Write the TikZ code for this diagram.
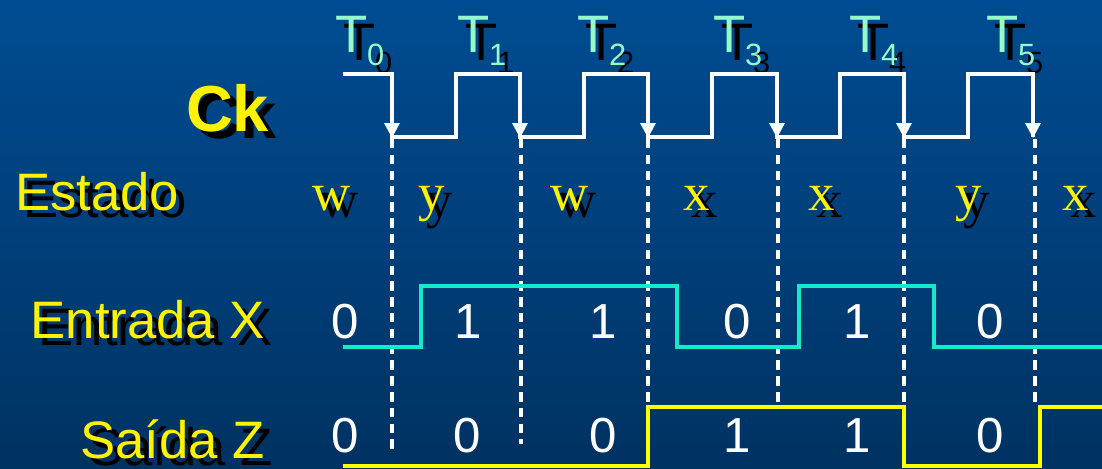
\documentclass[tikz,border=0pt]{standalone}
\usepackage{fontspec}
\setmainfont{Liberation Sans}
\newfontfamily\statefont{Liberation Serif}
\usetikzlibrary{arrows.meta}
\definecolor{bgtop}{RGB}{0,76,146}
\definecolor{bgbot}{RGB}{0,50,98}
\definecolor{tickcol}{RGB}{150,250,200}
\definecolor{xcol}{RGB}{20,235,200}
\definecolor{zcol}{RGB}{255,255,0}
\newcommand{\clksub}[1]{\raisebox{-7.4pt}{\fontsize{17.5}{17.5}\selectfont #1}}

\begin{document}
\begin{tikzpicture}[x=0.02cm, y=-0.02cm,
        every node/.style={inner sep=0pt, outer sep=0pt},
        shadow/.style={text=black},
        tlabel/.style={font=\fontsize{30}{30}\selectfont, text=tickcol, anchor=base west},
        cklabel/.style={font=\fontsize{37}{37}\selectfont\bfseries, text=yellow, anchor=base west},
        rowlabel/.style={font=\fontsize{30}{30}\selectfont, text=yellow},
        statelabel/.style={font=\fontsize{30}{30}\statefont, text=yellow, anchor=base},
        bitlabel/.style={font=\fontsize{28}{28}\selectfont, text=white, anchor=base},
        wave/.style={line width=1.8pt},
        clkarrow/.style={line width=1.8pt, white, -{Triangle[width=8.5pt, length=8.5pt]}},
        guide/.style={white, line width=1.8pt, dash pattern=on 5.4pt off 3.6pt}
    ]
        % fundo
        \fill[top color=bgtop, bottom color=bgbot] (0,0) rectangle (1102,468);
        \useasboundingbox (0,0) rectangle (1102,468);

        % rotulos dos instantes
        \node[tlabel, shadow] (t0s) at (343,60) {T\clksub{0}};
        \node[tlabel] (t0) at (335,52) {T\clksub{0}};
        \node[tlabel, shadow] (t1s) at (465,60) {T\clksub{1}};
        \node[tlabel] (t1) at (457,52) {T\clksub{1}};
        \node[tlabel, shadow] (t2s) at (585,60) {T\clksub{2}};
        \node[tlabel] (t2) at (577,52) {T\clksub{2}};
        \node[tlabel, shadow] (t3s) at (721,60) {T\clksub{3}};
        \node[tlabel] (t3) at (713,52) {T\clksub{3}};
        \node[tlabel, shadow] (t4s) at (857,60) {T\clksub{4}};
        \node[tlabel] (t4) at (849,52) {T\clksub{4}};
        \node[tlabel, shadow] (t5s) at (994,60) {T\clksub{5}};
        \node[tlabel] (t5) at (986,52) {T\clksub{5}};

        % rotulos das linhas
        \node[cklabel, shadow] (cks) at (194,138) {Ck};
        \node[cklabel] (ck) at (186,131) {Ck};
        \node[rowlabel, shadow, anchor=base west] (estados) at (23,217) {Estado};
        \node[rowlabel, anchor=base west] (estado) at (15,210) {Estado};
        \node[rowlabel, shadow, anchor=base east] (entradas) at (273,345) {Entrada X};
        \node[rowlabel, anchor=base east] (entrada) at (265,338) {Entrada X};
        \node[rowlabel, shadow, anchor=base east] (saidas) at (273,465) {Saída Z};
        \node[rowlabel, anchor=base east] (saida) at (265,458) {Saída Z};

        % relogio
        \draw[wave, white] (343,74) -- (392,74) -- (392,137) -- (456,137) -- (456,74)
            -- (520,74) -- (520,137) -- (584,137) -- (584,74)
            -- (648,74) -- (648,137) -- (712,137) -- (712,74)
            -- (777,74) -- (777,137) -- (840,137) -- (840,74)
            -- (904,74) -- (904,137) -- (968,137) -- (968,74)
            -- (1033,74) -- (1033,137);
        \draw[clkarrow] (392,100) -- (392,138);
        \draw[clkarrow] (520,100) -- (520,138);
        \draw[clkarrow] (648,100) -- (648,138);
        \draw[clkarrow] (777,100) -- (777,138);
        \draw[clkarrow] (904,100) -- (904,138);
        \draw[clkarrow] (1033,100) -- (1033,138);

        % linhas tracejadas
        \draw[guide] (392,139) -- (392,452);
        \draw[guide] (521,139) -- (521,444);
        \draw[guide] (648,139) -- (648,407);
        \draw[guide] (778,139) -- (778,406);
        \draw[guide] (904,139) -- (904,407);
        \draw[guide] (1035,139) -- (1035,406);

        % estados
        \node[statelabel, shadow] (s0s) at (340,217) {w};
        \node[statelabel] (s0) at (332,210) {w};
        \node[statelabel, shadow] (s1s) at (440,217) {y};
        \node[statelabel] (s1) at (432,210) {y};
        \node[statelabel, shadow] (s2s) at (578,217) {w};
        \node[statelabel] (s2) at (570,210) {w};
        \node[statelabel, shadow] (s3s) at (705,217) {x};
        \node[statelabel] (s3) at (697,210) {x};
        \node[statelabel, shadow] (s4s) at (830,217) {x};
        \node[statelabel] (s4) at (822,210) {x};
        \node[statelabel, shadow] (s5s) at (977,217) {y};
        \node[statelabel] (s5) at (969,210) {y};
        \node[statelabel, shadow] (s6s) at (1084,217) {x};
        \node[statelabel] (s6) at (1076,210) {x};

        % entrada X
        \draw[wave, xcol] (343,347) -- (421,347) -- (421,286) -- (677,286) -- (677,347)
            -- (799,347) -- (799,286) -- (934,286) -- (934,347) -- (1102,347);
        \node[bitlabel] (x0) at (345,338) {0};
        \node[bitlabel] (x1) at (468,338) {1};
        \node[bitlabel] (x2) at (603,338) {1};
        \node[bitlabel] (x3) at (737,338) {0};
        \node[bitlabel] (x4) at (857,338) {1};
        \node[bitlabel] (x5) at (990,338) {0};

        % saida Z
        \draw[wave, zcol] (343,466) -- (648,466) -- (648,407) -- (904,407) -- (904,466)
            -- (1040,466) -- (1040,407) -- (1102,407);
        \node[bitlabel] (z0) at (345,452) {0};
        \node[bitlabel] (z1) at (467,452) {0};
        \node[bitlabel] (z2) at (603,452) {0};
        \node[bitlabel] (z3) at (737,452) {1};
        \node[bitlabel] (z4) at (857,452) {1};
        \node[bitlabel] (z5) at (990,452) {0};
    \end{tikzpicture}
\end{document}
